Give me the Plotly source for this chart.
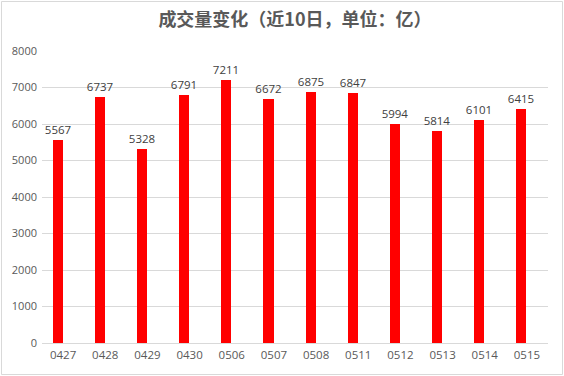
import plotly.graph_objects as go

dates = ["0427", "0428", "0429", "0430", "0506", "0507", "0508", "0511", "0512", "0513", "0514", "0515"]
volumes = [5567, 6737, 5328, 6791, 7211, 6672, 6875, 6847, 5994, 5814, 6101, 6415]
y_ticks = [0, 1000, 2000, 3000, 4000, 5000, 6000, 7000, 8000]

W, H = 564, 376
L, R, T, B = 42, 16, 51, 33
FONT = "Open Sans, Liberation Sans, sans-serif"

fig = go.Figure()
fig.add_trace(go.Bar(
    x=dates, y=volumes,
    marker=dict(color="#FF0000", line=dict(width=0)),
    width=0.24, offset=-0.25,
    text=[str(v) for v in volumes],
    textposition="outside",
    constraintext="none",
    textfont=dict(family=FONT, size=11.5, color="#404040"),
    cliponaxis=False,
    hoverinfo="skip",
))

pw = W - L - R
ph = H - T - B
fig.add_shape(type="rect", xref="paper", yref="paper",
              x0=(1.5 - L) / pw, x1=(W - 1.5 - L) / pw,
              y0=-(H - 1.5 - T - ph) / ph, y1=1 + (T - 1.5) / ph,
              line=dict(color="#D9D9D9", width=1), layer="below")

fig.update_layout(
    width=W, height=H,
    margin=dict(l=L, r=R, t=T, b=B, autoexpand=False),
    paper_bgcolor="white", plot_bgcolor="white",
    showlegend=False,
    title=dict(text="<b>成交量变化（近10日，单位：亿）</b>", x=0.5, xanchor="center", xref="paper",
               yref="container", y=1 - 20 / H, yanchor="middle",
               font=dict(family="Noto Sans CJK SC, sans-serif", size=18, color="#595959")),
    xaxis=dict(type="category", showgrid=False, showline=False, ticks="", automargin=False,
               ticklabelstandoff=3,
               tickfont=dict(family=FONT, size=11.5, color="#595959")),
    yaxis=dict(range=[0, 8000], tickvals=y_ticks, showgrid=True, gridcolor="#D9D9D9", gridwidth=1,
               zeroline=True, zerolinecolor="#D9D9D9", zerolinewidth=1, showline=False, ticks="",
               automargin=False, ticklabelstandoff=4,
               tickfont=dict(family=FONT, size=11, color="#595959")),
    bargap=0.0,
)

fig.write_html("out.html", config={"displayModeBar": False},
               post_script="document.body.style.margin='0';document.body.style.overflow='hidden';")
